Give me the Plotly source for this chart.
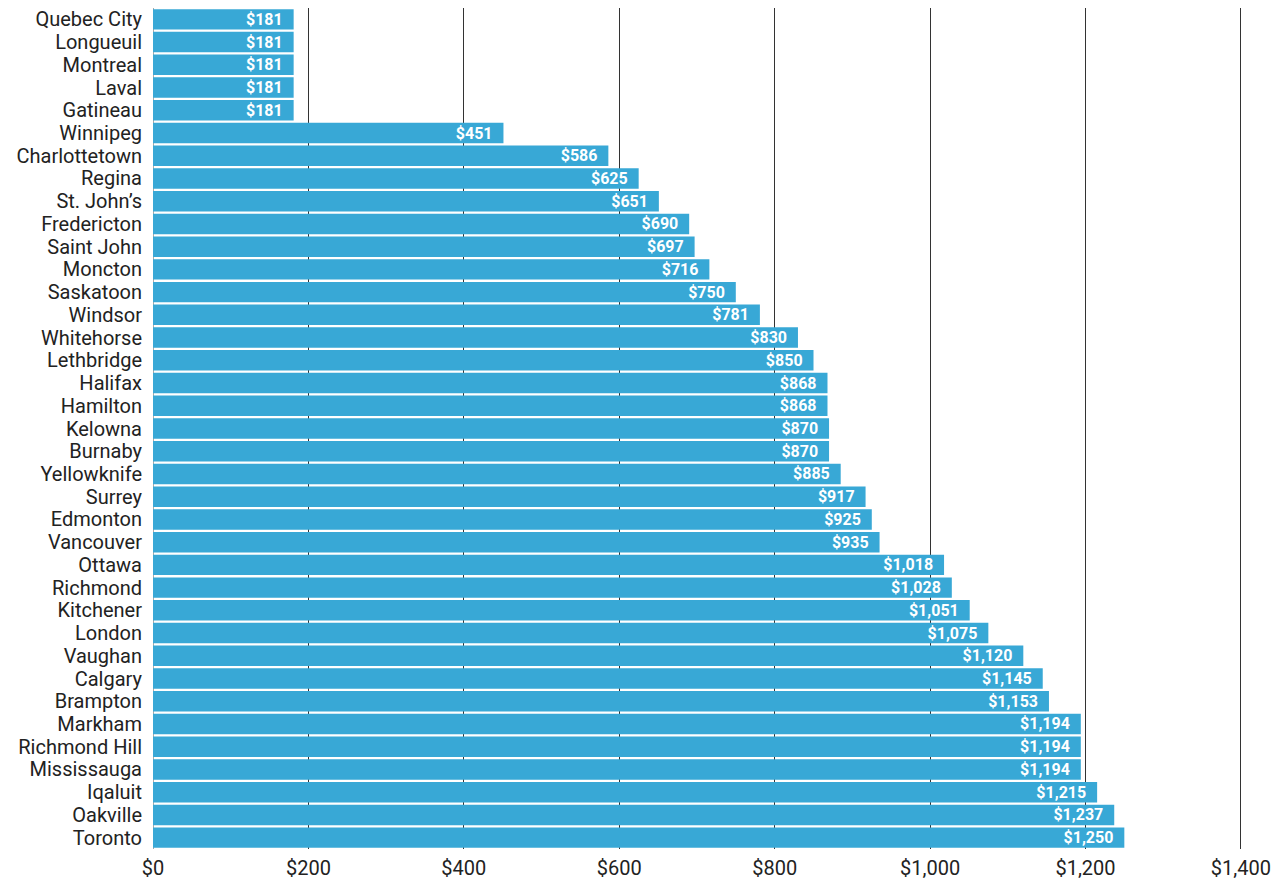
import plotly.graph_objects as go

cities = ["Quebec City", "Longueuil", "Montreal", "Laval", "Gatineau", "Winnipeg",
          "Charlottetown", "Regina", "St. John's", "Fredericton", "Saint John", "Moncton",
          "Saskatoon", "Windsor", "Whitehorse", "Lethbridge", "Halifax", "Hamilton",
          "Kelowna", "Burnaby", "Yellowknife", "Surrey", "Edmonton", "Vancouver",
          "Ottawa", "Richmond", "Kitchener", "London", "Vaughan", "Calgary", "Brampton",
          "Markham", "Richmond Hill", "Mississauga", "Iqaluit", "Oakville", "Toronto"]
values = [181, 181, 181, 181, 181, 451, 586, 625, 651, 690, 697, 716, 750, 781, 830,
          850, 868, 868, 870, 870, 885, 917, 925, 935, 1018, 1028, 1051, 1075, 1120,
          1145, 1153, 1194, 1194, 1194, 1215, 1237, 1250]
tick_vals = [0, 200, 400, 600, 800, 1000, 1200, 1400]
tick_text = ["$0", "$200", "$400", "$600", "$800", "$1,000", "$1,200", "$1,400"]

labels = ["$" + f"{v:,}" + "\u00a0\u00a0" for v in values]
cities_disp = [c.replace("'", "\u2019") for c in cities]

FONT = "Roboto, sans-serif"

fig = go.Figure(go.Bar(
    x=values, y=cities_disp, orientation="h",
    marker=dict(color="#38a8d6", line=dict(width=0)),
    text=labels, textposition="inside", insidetextanchor="end",
    constraintext="none",
    textfont=dict(color="white", size=16, family=FONT, weight="bold"),
    textangle=0, cliponaxis=False,
))

fig.update_layout(
    width=1284, height=886,
    margin=dict(l=153, r=40, t=8, b=37),
    paper_bgcolor="white", plot_bgcolor="white",
    bargap=0.1,
    showlegend=False,
    font=dict(family=FONT, color="#222"),
)
fig.update_xaxes(
    range=[0, 1404], tickvals=tick_vals, ticktext=tick_text,
    showgrid=True, gridcolor="#333", gridwidth=1,
    zeroline=True, zerolinecolor="#aaa", zerolinewidth=1,
    tickfont=dict(size=20, color="#222"), ticks="", fixedrange=True,
    showline=False, ticklabelstandoff=5, automargin=False,
)
fig.update_yaxes(
    autorange="reversed", tickmode="array", tickvals=cities_disp,
    tickfont=dict(size=20, color="#222"),
    ticks="", ticklabelstandoff=10, showgrid=False, automargin=False,
)

fig.write_html("out.html")
